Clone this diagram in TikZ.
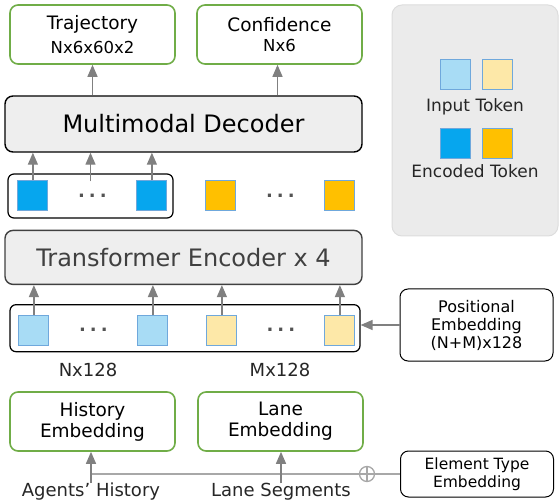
\documentclass[tikz,border=0pt]{standalone}
\usepackage{fontspec}
\setmainfont{DejaVu Sans}
\usetikzlibrary{arrows.meta,positioning,calc}
\definecolor{mtrGreen}{HTML}{70AD47}
\definecolor{mtrBox}{HTML}{EEEEEE}
\definecolor{mtrPanel}{HTML}{EBEBEB}
\definecolor{mtrPanelEdge}{HTML}{DDDDDD}
\definecolor{mtrArrow}{HTML}{808080}
\definecolor{mtrLight}{HTML}{A8A8A8}
\definecolor{mtrEdge}{HTML}{6FA8DC}
\definecolor{mtrSky}{HTML}{A8DCF5}
\definecolor{mtrSand}{HTML}{FDE8A8}
\definecolor{mtrCyan}{HTML}{06A6EE}
\definecolor{mtrAmber}{HTML}{FFC000}
\definecolor{mtrInk}{HTML}{404040}
\tikzset{
  outbox/.style={rectangle,rounded corners=8pt,draw=mtrGreen,line width=1.6pt,fill=white,
    minimum width=165pt,minimum height=59pt,align=center,font=\fontsize{18.5}{21}\selectfont},
  mainblock/.style={rectangle,rounded corners=8pt,draw=black,line width=1.4pt,fill=mtrBox,
    minimum width=357pt,minimum height=56pt,align=center,font=\fontsize{24}{28}\selectfont},
  encblock/.style={mainblock,draw=mtrInk,text=mtrInk,minimum height=54pt},
  tokenrow/.style={rectangle,rounded corners=6pt,draw=black,line width=1.2pt,
    minimum height=44pt},
  legendbox/.style={rectangle,rounded corners=10pt,draw=mtrPanelEdge,line width=1pt,fill=mtrPanel,
    minimum width=166pt,minimum height=231pt},
  sidebox/.style={rectangle,rounded corners=8pt,draw=black,line width=1pt,fill=white,
    minimum width=153pt,align=center,font=\fontsize{16}{18}\selectfont},
  token/.style={rectangle,draw=mtrEdge,line width=1pt,minimum size=30pt,inner sep=0pt},
  intokA/.style={token,fill=mtrSky},
  intokB/.style={token,fill=mtrSand},
  enctokA/.style={token,fill=mtrCyan},
  enctokB/.style={token,fill=mtrAmber},
  dots/.style={inner sep=0pt,text=mtrInk!90,font=\fontsize{18}{18}\bfseries},
  label/.style={inner sep=0pt,align=center,text=black!85,font=\fontsize{17}{20}\selectfont},
  arrow/.style={-{Triangle[length=12pt,width=10pt]},draw=mtrArrow,line width=1.3pt},
  link/.style={draw=mtrLight,line width=1.3pt},
  plus/.style={circle,draw=mtrLight,line width=1.3pt,minimum size=15pt,inner sep=0pt,
    path picture={\draw[mtrLight,line width=1.3pt]
      (path picture bounding box.north) -- (path picture bounding box.south)
      (path picture bounding box.west) -- (path picture bounding box.east);}}
}
\begin{document}
\begin{tikzpicture}[x=1pt,y=1pt]
\useasboundingbox (0,0) rectangle (559,-502);
\node[outbox] (traj) at (92.5,-34.5) {Trajectory\\[3pt]{\fontsize{16.5}{18}\selectfont Nx6x60x2}};
\node[outbox] (conf) at (279.5,-34.5) {Confidence\\[-1pt]{\fontsize{16.5}{18}\selectfont Nx6}};
\node[legendbox] (legend) at (475,-120.5) {};
\node[mainblock] (dec) at (183.5,-124) {Multimodal Decoder};
\node[tokenrow, minimum width=165pt] (encrow) at (90.5,-196) {};
\node[encblock, below=77pt of dec] (enc) {Transformer Encoder x 4};
\node[tokenrow, minimum width=350pt, minimum height=47pt, below=19pt of enc, xshift=1.5pt] (inrow) {};
\node[sidebox, minimum height=72pt] (pos) at (476.5,-325) {Positional\\Embedding\\(N+M)x128};

\node[enctokA, right=10pt of encrow.west] (e1) {};
\node[enctokA, right=88pt of e1] (e2) {};
\node[enctokB, right=38pt of e2] (e3) {};
\node[enctokB, right=88pt of e3] (e4) {};
\node[dots] (ed1) at ($(e1)!0.5!(e2)$) {.\hspace{4pt}.\hspace{4pt}.};
\node[dots] (ed2) at ($(e3)!0.5!(e4)$) {.\hspace{4pt}.\hspace{4pt}.};

\node[intokA, right=9pt of inrow.west, yshift=-2pt] (i1) {};
\node[intokA, right=88pt of i1] (i2) {};
\node[intokB, right=38pt of i2] (i3) {};
\node[intokB, right=87pt of i3] (i4) {};
\node[dots] (id1) at ($(i1)!0.5!(i2)$) {.\hspace{4pt}.\hspace{4pt}.};
\node[dots] (id2) at ($(i3)!0.5!(i4)$) {.\hspace{4pt}.\hspace{4pt}.};

\node[intokA] (lgA) at ([xshift=-20pt,yshift=45.5pt]legend.center) {};
\node[intokB, right=11pt of lgA] (lgB) {};
\node[label] (lgin) at (475,-107) {Input Token};
\node[enctokA, below=37.5pt of lgA] (lgC) {};
\node[enctokB, right=11pt of lgC] (lgD) {};
\node[label] (lgenc) at (475,-171) {Encoded Token};

\node[label, font=\fontsize{18}{20}\selectfont] (nlab) at (88,-370) {Nx128};
\node[label, font=\fontsize{18}{20}\selectfont] (mlab) at (280,-370) {Mx128};
\node[outbox, minimum width=165pt] (hist) at (92.5,-421.5) {History\\Embedding};
\node[outbox] (lane) at (280.5,-421.5) {Lane\\Embedding};
\node[sidebox, minimum height=46pt, font=\fontsize{15.5}{17.5}\selectfont] (elem) at (477,-474) {Element Type\\Embedding};
\node[plus] (oplus) at (367,-474) {};
\node[label, font=\fontsize{18}{20}\selectfont] (agents) at (91,-492) {Agents’ History};
\node[label, font=\fontsize{18}{20}\selectfont] (lanes) at (281,-492) {Lane Segments};
\coordinate (jn) at (agents.north |- oplus);

\draw[arrow] (dec.north -| traj) -- (traj.south);
\draw[arrow] ([xshift=-2pt]dec.north -| conf) -- ([xshift=-2pt]conf.south);
\draw[arrow] (e1.north) -- (e1 |- dec.south);
\draw[arrow] ([yshift=-8pt]encrow.north) -- (encrow |- dec.south);
\draw[arrow] (e2.north) -- (e2 |- dec.south);
\foreach \t in {i1,i2,i3,i4}
  \draw[arrow] (\t.north) -- (\t |- enc.south);
\draw[arrow] (pos.west) -- (pos.west -| inrow.east);
\draw[link] (elem.west) -- (oplus) -- (jn);
\draw[arrow] (agents.north) -- (agents.north |- hist.south);
\draw[arrow] (lanes.north) -- (lanes.north |- lane.south);
\end{tikzpicture}
\end{document}
